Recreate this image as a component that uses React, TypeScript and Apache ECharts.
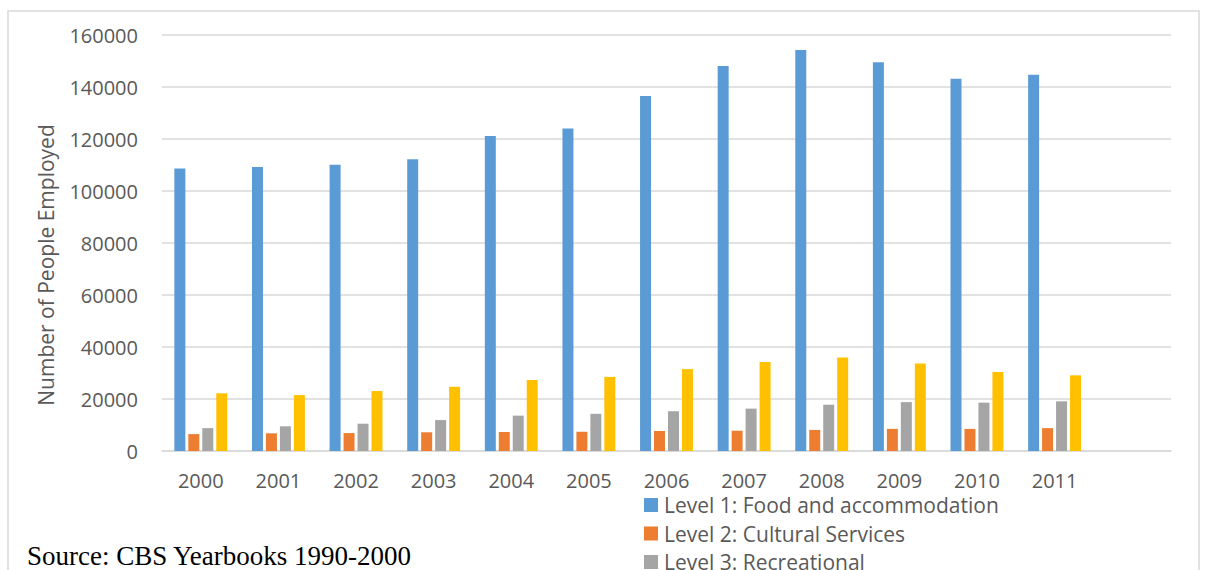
import React, { useEffect, useRef } from "react";
import * as echarts from "echarts";

const years = ["2000", "2001", "2002", "2003", "2004", "2005", "2006", "2007", "2008", "2009", "2010", "2011", ""];
const level1 = [108700, 109200, 110100, 112200, 121200, 124000, 136500, 148100, 154200, 149500, 143200, 144700];
const level2 = [6500, 6800, 6900, 7200, 7300, 7400, 7700, 7800, 8100, 8500, 8500, 8800];
const level3 = [8800, 9500, 10500, 11900, 13600, 14300, 15300, 16300, 17800, 18800, 18600, 19100];
const level4 = [22200, 21500, 23100, 24700, 27300, 28500, 31500, 34200, 36000, 33700, 30400, 29100];
const seriesNames = [
  "Level 1: Food and accommodation",
  "Level 2: Cultural Services",
  "Level 3: Recreational",
  "Level 4",
];
const colors = ["#5b9bd5", "#ed7d31", "#a5a5a5", "#ffc000"];
const yTicks = { min: 0, max: 160000, interval: 20000 };

const FONT = "'Open Sans', 'Noto Sans', sans-serif";
const TEXT = "#595959";

export default function App() {
  const ref = useRef<HTMLDivElement>(null);
  useEffect(() => {
    if (!ref.current) return;
    const chart = echarts.init(ref.current, undefined, { renderer: "svg" });
    const data = [level1, level2, level3, level4];
    const legendItems: any[] = [];
    seriesNames.slice(0, 3).forEach((name, i) => {
      const cy = 505 + i * 28.5;
      legendItems.push({
        type: "rect",
        shape: { x: 644, y: cy - 7, width: 14, height: 14 },
        style: { fill: colors[i] },
        silent: true,
      });
      legendItems.push({
        type: "text",
        x: 664,
        y: cy,
        style: {
          text: name,
          font: `21px ${FONT}`,
          fill: TEXT,
          textAlign: "left",
          textVerticalAlign: "middle",
        },
        silent: true,
      });
    });
    chart.setOption({
      animation: false,
      backgroundColor: "#ffffff",
      textStyle: { fontFamily: FONT },
      grid: { left: 162, right: 34, top: 35, bottom: 119, containLabel: false },
      xAxis: {
        type: "category",
        data: years,
        axisTick: { show: false },
        axisLine: { lineStyle: { color: "#d9d9d9", width: 1.5 } },
        axisLabel: { fontFamily: FONT, fontSize: 20, color: TEXT, margin: 19, interval: 0 },
      },
      yAxis: {
        type: "value",
        min: yTicks.min,
        max: yTicks.max,
        interval: yTicks.interval,
        axisLine: { show: false },
        axisTick: { show: false },
        axisLabel: {
          fontFamily: FONT,
          fontSize: 20,
          color: TEXT,
          margin: 24,
          formatter: (v: number) => String(v),
        },
        splitLine: { lineStyle: { color: "#d9d9d9", width: 1.5 } },
      },
      series: data.map((d, i) => ({
        name: seriesNames[i],
        type: "bar",
        data: d,
        barWidth: 11,
        barGap: "27%",
        itemStyle: { color: colors[i] },
      })),
      graphic: [
        {
          type: "rect",
          shape: { x: 8, y: 11, width: 1191, height: 620 },
          style: { fill: "none", stroke: "#d9d9d9", lineWidth: 1.5 },
          silent: true,
        },
        {
          type: "text",
          x: 46,
          y: 265,
          rotation: Math.PI / 2,
          style: {
            text: "Number of People Employed",
            font: `21px ${FONT}`,
            fill: TEXT,
            textAlign: "center",
            textVerticalAlign: "middle",
          },
        },
        {
          type: "text",
          x: 27,
          y: 556,
          style: {
            text: "Source: CBS Yearbooks 1990-2000",
            font: "27px 'Liberation Serif', 'Times New Roman', serif",
            fill: "#000000",
            textAlign: "left",
            textVerticalAlign: "middle",
          },
        },
        ...legendItems,
      ],
    });
    return () => chart.dispose();
  }, []);
  return (
    <div
      ref={ref}
      style={{ position: "absolute", left: 0, top: 0, width: 1205, height: 570 }}
    />
  );
}
